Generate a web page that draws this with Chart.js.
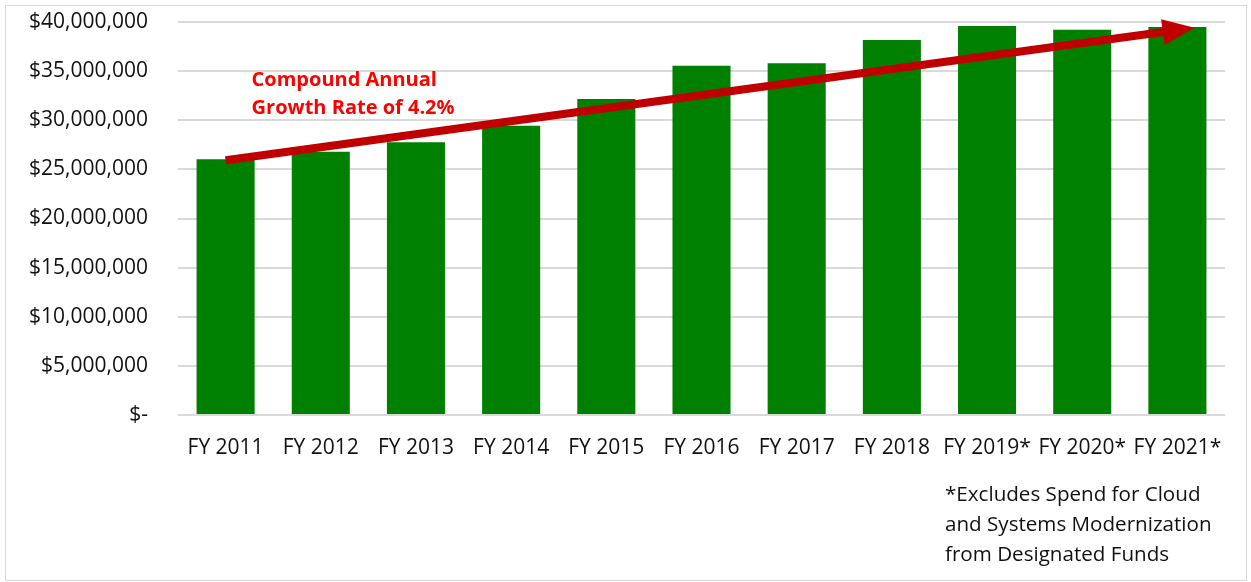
<!DOCTYPE html>
<html>
<head>
<meta charset="utf-8">
<script src="https://cdn.jsdelivr.net/npm/chart.js@4/dist/chart.umd.min.js"></script>
<style>
  body { margin: 0; background: #fff; }
  #chartBox {
    position: absolute; left: 5px; top: 5px;
    width: 1240px; height: 574px;
    border: 1px solid #d9d9d9;
  }
</style>
</head>
<body>
<div id="chartBox"><canvas id="spendChart"></canvas></div>
<script>
// fiscal years and spend
const years = ["FY 2011", "FY 2012", "FY 2013", "FY 2014", "FY 2015", "FY 2016",
  "FY 2017", "FY 2018", "FY 2019*", "FY 2020*", "FY 2021*"];
const spend = [26020000, 26800000, 27760000, 29450000, 32160000, 35550000,
  35790000, 38170000, 39590000, 39220000, 39490000];

// trend arrow: [category index, value]
const arrowFrom = [0, 25920000];
const arrowTo = [10.18, 39420000];

const cagrText = ["Compound Annual", "Growth Rate of 4.2%"];
const footnote = ["*Excludes Spend for Cloud", "and Systems Modernization", "from Designated Funds"];

const FONT = "'Open Sans', 'DejaVu Sans', sans-serif";

const extras = {
  id: "extras",
  afterDatasetsDraw(chart) {
    const ctx = chart.ctx;
    const xs = chart.scales.x, ys = chart.scales.y;
    const x1 = xs.getPixelForValue(arrowFrom[0]), y1 = ys.getPixelForValue(arrowFrom[1]);
    const x2 = xs.getPixelForValue(arrowTo[0]), y2 = ys.getPixelForValue(arrowTo[1]);
    const ang = Math.atan2(y2 - y1, x2 - x1);
    const headLen = 32, headHalf = 13;
    const bx = x2 - headLen * Math.cos(ang), by = y2 - headLen * Math.sin(ang);

    ctx.save();
    ctx.strokeStyle = "#c00000";
    ctx.fillStyle = "#c00000";
    ctx.lineWidth = 8;
    ctx.beginPath();
    ctx.moveTo(x1, y1);
    ctx.lineTo(bx + 2 * Math.cos(ang), by + 2 * Math.sin(ang));
    ctx.stroke();
    ctx.beginPath();
    ctx.moveTo(x2, y2);
    ctx.lineTo(bx + headHalf * Math.sin(ang), by - headHalf * Math.cos(ang));
    ctx.lineTo(bx - headHalf * Math.sin(ang), by + headHalf * Math.cos(ang));
    ctx.closePath();
    ctx.fill();

    // CAGR label
    ctx.fillStyle = "#ff0000";
    ctx.font = "bold 20px " + FONT;
    ctx.textAlign = "left";
    ctx.textBaseline = "middle";
    const ax = xs.getPixelForValue(0) + 26;
    ctx.fillText(cagrText[0], ax, 74);
    ctx.fillText(cagrText[1], ax, 102);

    // footnote
    ctx.fillStyle = "#111";
    ctx.font = "20.6px " + FONT;
    footnote.forEach((t, i) => ctx.fillText(t, 939, 489 + i * 30));
    ctx.restore();
  }
};

new Chart(document.getElementById("spendChart"), {
  type: "bar",
  data: {
    labels: years,
    datasets: [{
      data: spend,
      backgroundColor: "#008000",
      borderWidth: 0,
      barPercentage: 0.61,
      categoryPercentage: 1
    }]
  },
  options: {
    responsive: true,
    maintainAspectRatio: false,
    animation: false,
    layout: { padding: { left: 0, right: 21, top: 16, bottom: 0 } },
    plugins: { legend: { display: false }, tooltip: { enabled: false } },
    scales: {
      x: {
        grid: { display: false },
        border: { display: false },
        ticks: { color: "#111", font: { family: FONT, size: 21 }, padding: 12, maxRotation: 0 },
        afterFit(s) { s.height = 165; s.paddingLeft = 0; s.paddingRight = 0; }
      },
      y: {
        min: 0,
        max: 40000000,
        grid: { color: "#d9d9d9", lineWidth: 2, drawTicks: false },
        border: { display: false },
        ticks: {
          stepSize: 5000000,
          padding: 30,
          color: "#111",
          font: { family: FONT, size: 21 },
          callback: v => v === 0 ? "$-" : "$" + v.toLocaleString("en-US")
        },
        afterFit(s) { s.width = 172; s.paddingTop = 0; s.paddingBottom = 0; }
      }
    }
  },
  plugins: [extras]
});
</script>
</body>
</html>
